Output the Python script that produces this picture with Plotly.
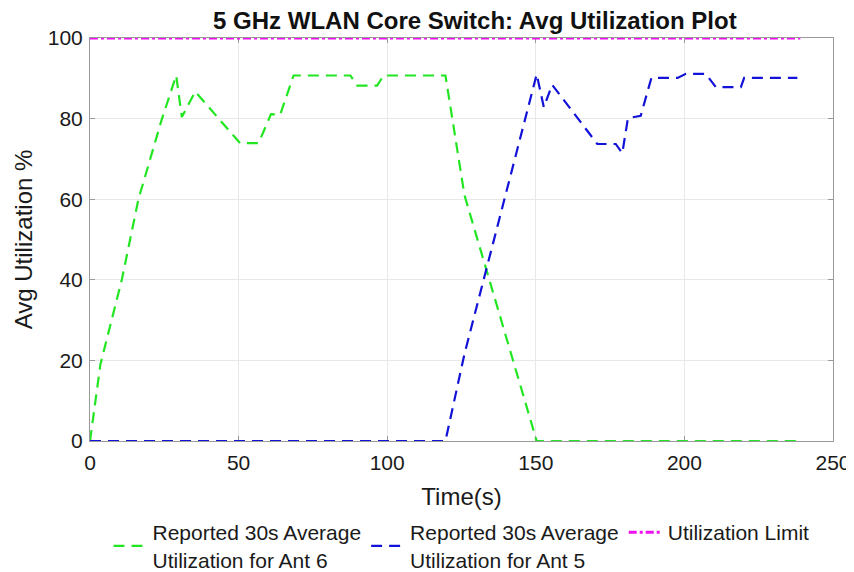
import plotly.graph_objects as go

# ---- data ----
t_ant6 = [0, 3.5, 10.7, 16.3, 24.1, 29.0, 30.9, 35.4, 50.5, 56.7, 60.9, 64.0, 68.5,
          87.6, 89.9, 96.6, 98.8, 119.6, 126.0, 150.3, 239.0]
util_ant6 = [0, 19, 40, 60, 79.7, 90.7, 80.4, 86.7, 73.9, 73.9, 81.1, 81.0, 90.7,
             90.7, 88.2, 88.2, 90.7, 90.7, 61.0, 0, 0]

t_ant5 = [0, 119.6, 126.0, 133.6, 150.3, 152.7, 155.5, 170.7, 176.9, 179.1, 181.0,
          185.3, 188.9, 197.7, 200.5, 207.2, 210.6, 219.0, 220.1, 238.0]
util_ant5 = [0, 0, 21.6, 43.2, 91.0, 82.8, 88.4, 73.7, 73.7, 71.4, 80.1,
             80.7, 90.1, 90.1, 91.1, 91.1, 87.8, 87.8, 90.1, 90.1]

t_limit = [0, 239.0]
util_limit = [100, 100]

name_ant6 = "Reported 30s Average<br>Utilization for Ant 6"
name_ant5 = "Reported 30s Average<br>Utilization for Ant 5"
name_limit = "Utilization Limit"

x_ticks = [0, 50, 100, 150, 200, 250]
y_ticks = [0, 20, 40, 60, 80, 100]

FONT = "Liberation Sans, Arial, Helvetica, sans-serif"

fig = go.Figure()
fig.add_trace(go.Scatter(x=t_ant6, y=util_ant6, mode="lines", name=name_ant6,
                         line=dict(color="#22E622", width=2.2, dash="11px,7px")))
fig.add_trace(go.Scatter(x=t_ant5, y=util_ant5, mode="lines", name=name_ant5,
                         line=dict(color="#1212D8", width=2.2, dash="11px,7px")))
fig.add_trace(go.Scatter(x=t_limit, y=util_limit, mode="lines", name=name_limit,
                         line=dict(color="#EE10EE", width=3, dash="8px,3px,3px,3px")))

axis_common = dict(
    showline=True, linecolor="#9a9a9a", linewidth=1, mirror="ticks",
    ticks="inside", ticklen=5, tickcolor="#9a9a9a",
    showgrid=True, gridcolor="#e8e8e8", gridwidth=1,
    zeroline=False, layer="below traces",
    tickfont=dict(family=FONT, size=21, color="#1a1a1a"),
)

fig.update_xaxes(range=[0, 250], tickvals=x_ticks, ticklabelstandoff=3,
                 title=dict(text="Time(s)", font=dict(family=FONT, size=24, color="#1a1a1a"), standoff=14),
                 **axis_common)
fig.update_yaxes(range=[0, 100], tickvals=y_ticks, ticklabelstandoff=2,
                 title=dict(text="Avg Utilization %", font=dict(family=FONT, size=24, color="#1a1a1a"), standoff=8),
                 **axis_common)

fig.update_layout(
    width=854, height=572,
    paper_bgcolor="white", plot_bgcolor="white",
    margin=dict(l=82, r=29, t=30, b=139, autoexpand=False),
    title=dict(text="<b>5 GHz WLAN Core Switch: Avg Utilization Plot</b>",
               xref="paper", x=0.518, xanchor="center",
               yref="container", y=0.978, yanchor="middle",
               font=dict(family=FONT, size=24, color="#111")),
    legend=dict(orientation="h", x=0.5, xanchor="center", xref="paper",
                y=0.0594, yanchor="middle", yref="container",
                font=dict(family=FONT, size=21, color="#1a1a1a"),
                bgcolor="rgba(0,0,0,0)", itemwidth=34, valign="middle"),
    showlegend=True,
)

fig.write_html("out.html")
